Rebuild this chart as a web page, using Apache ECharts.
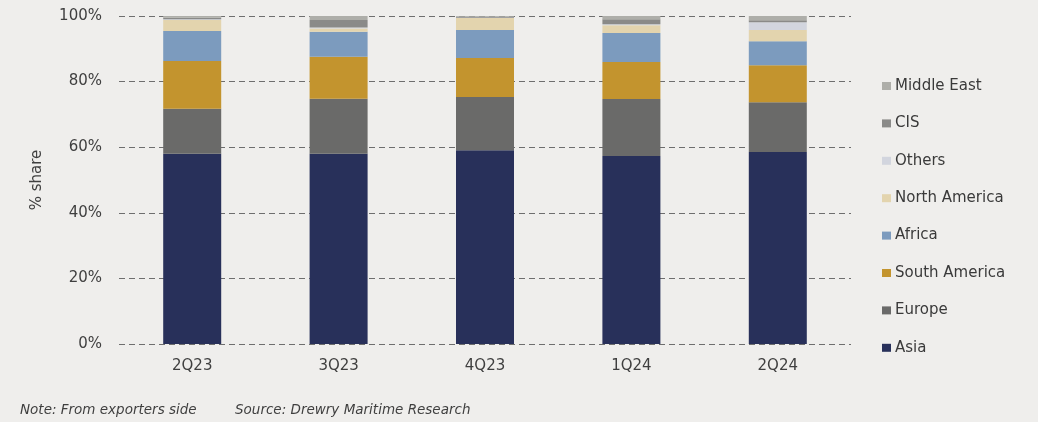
<!DOCTYPE html>
<html>
<head>
<meta charset="utf-8">
<script src="https://cdn.jsdelivr.net/npm/echarts@6/dist/echarts.min.js"></script>
<style>
html,body{margin:0;padding:0;background:#efeeec;}
#c{width:1038px;height:422px;}
</style>
</head>
<body>
<div id="c"></div>
<script>
const categories = ['2Q23', '3Q23', '4Q23', '1Q24', '2Q24'];
const asia         = [58.0, 58.0, 59.1, 57.3, 58.5];
const europe       = [13.7, 16.8, 16.2, 17.4, 15.2];
const southAmerica = [14.6, 12.8, 11.9, 11.3, 11.3];
const africa       = [9.1, 7.6, 8.5, 8.8, 7.3];
const northAmerica = [3.4, 1.0, 3.7, 2.4, 3.4];
const others       = [0.2, 0.3, 0.1, 0.3, 2.4];
const cis          = [0.5, 2.3, 0.3, 1.5, 0.6];
const middleEast   = [0.5, 1.2, 0.2, 1.0, 1.3];
const yTicks = ['0%', '20%', '40%', '60%', '80%', '100%'];

const seriesDefs = [
  {name: 'Asia', data: asia, color: '#28305a'},
  {name: 'Europe', data: europe, color: '#6a6a69'},
  {name: 'South America', data: southAmerica, color: '#c3942e'},
  {name: 'Africa', data: africa, color: '#7c9bbe'},
  {name: 'North America', data: northAmerica, color: '#e3d4ae'},
  {name: 'Others', data: others, color: '#d2d5de'},
  {name: 'CIS', data: cis, color: '#8a8a88'},
  {name: 'Middle East', data: middleEast, color: '#aeaea9'}
];

const FONT = 'DejaVu Sans, Liberation Sans, sans-serif';
const chart = echarts.init(document.getElementById('c'));
chart.setOption({
  backgroundColor: '#efeeec',
  animation: false,
  textStyle: {fontFamily: FONT},
  grid: {left: 119, right: 187, top: 16, bottom: 78},
  legend: {
    orient: 'vertical',
    left: 882,
    top: 78,
    padding: 0,
    itemWidth: 9,
    itemHeight: 8,
    itemGap: 21.4,
    icon: 'rect',
    textStyle: {color: '#3a3a3a', fontSize: 15, lineHeight: 16, padding: [0, 0, 0, -1]},
    data: seriesDefs.map(s => s.name).reverse()
  },
  xAxis: {
    type: 'category',
    data: categories,
    axisLine: {show: false},
    axisTick: {show: false},
    axisLabel: {color: '#3f3f3f', fontSize: 15, margin: 15}
  },
  yAxis: {
    type: 'value',
    min: 0,
    max: 100,
    interval: 20,
    name: '% share',
    nameLocation: 'middle',
    nameGap: 74,
    nameTextStyle: {color: '#3f3f3f', fontSize: 15},
    axisLabel: {color: '#3f3f3f', fontSize: 15, margin: 17,
      formatter: v => yTicks[Math.round(v / 20)]},
    splitLine: {lineStyle: {color: '#6e6e6e', type: [6, 4], width: 1}}
  },
  series: seriesDefs.map(s => ({
    name: s.name,
    type: 'bar',
    stack: 'total',
    barWidth: 58,
    data: s.data,
    itemStyle: {color: s.color}
  })),
  graphic: [
    {type: 'text', left: 20, top: 403, style: {text: 'Note: From exporters side', fill: '#3f3f3f', font: 'italic 13.5px DejaVu Sans, sans-serif'}},
    {type: 'text', left: 235, top: 403, style: {text: 'Source: Drewry Maritime Research', fill: '#3f3f3f', font: 'italic 13.5px DejaVu Sans, sans-serif'}}
  ]
});
</script>
</body>
</html>
